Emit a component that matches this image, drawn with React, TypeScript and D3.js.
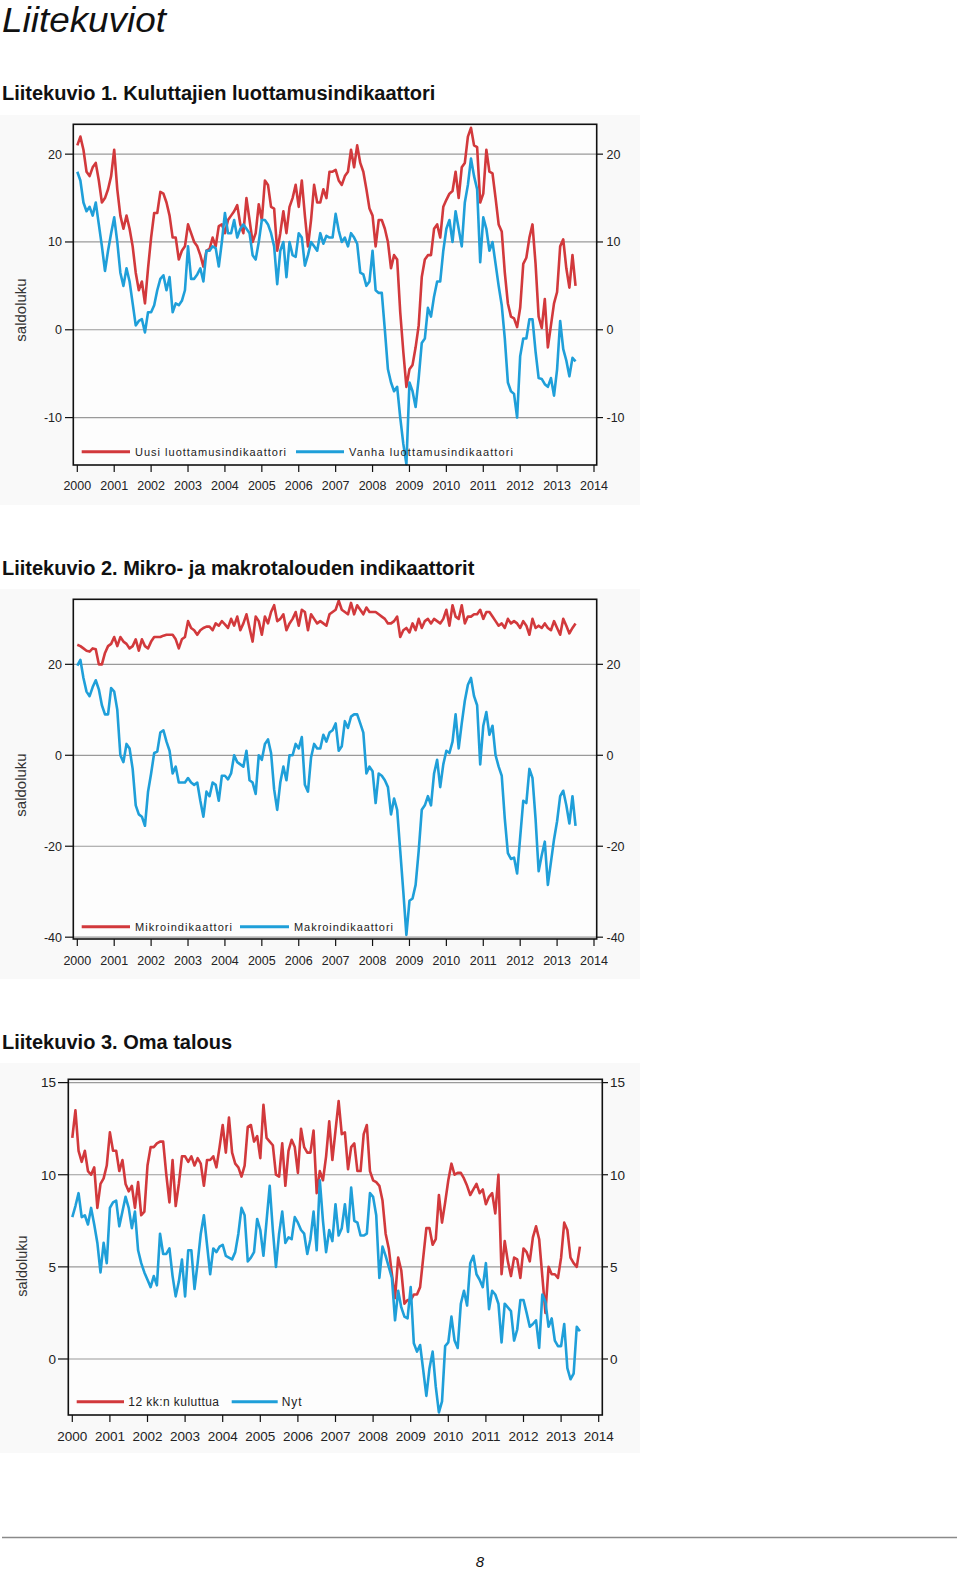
import React from "react";
import * as d3 from "d3";

// ---------- data (monthly, Jan 2000 – Jul 2013) ----------
const FIRST_YEAR = 2000;
const YEAR_TICKS = [2000, 2001, 2002, 2003, 2004, 2005, 2006, 2007, 2008, 2009, 2010, 2011, 2012, 2013, 2014];

const uusi = [
  21, 22, 20.5, 18, 17.5, 18.5, 19, 17, 14.5, 15, 16, 17.5,
  20.5, 16, 13, 11.5, 13, 11.5, 9.5, 6.5, 4.5, 5.5, 3, 7,
  10.5, 13.3, 13.3, 15.7, 15.5, 14.5, 13, 10.5, 10.5, 8, 9, 9.5,
  12, 11, 10, 9.5, 8.5, 7.2, 9, 9.2, 10.5, 9.5, 11.8, 12,
  11, 12.5, 13, 13.5, 14.2, 12, 11, 15, 12.5, 10, 11, 14.3,
  12.5, 17, 16.5, 14, 13.8, 9, 11, 13.5, 11, 14, 15, 16.5,
  14, 17, 13, 9.5, 12.5, 16.5, 14.5, 14.5, 16, 15, 18, 18,
  18.2, 17, 16.5, 17.5, 18, 20.5, 18.5, 21, 19, 18, 16, 13.8,
  13, 9.5, 12.5, 12.5, 11.5, 10, 7, 8.5, 8, 2, -2.5, -6.5,
  -4.5, -4, -2, 0.5, 6, 8, 8.5, 8.5, 11.5, 12, 10.5, 14,
  14.8, 15.5, 15.8, 18, 15, 18.5, 19, 22, 23, 21, 20.8, 14.5,
  15.5, 20.5, 18, 17.8, 15, 12, 11.2, 6.5, 3, 1.5, 1.3, 0.3,
  2.5, 7.5, 8.2, 10.5, 12, 7.5, 1.5, 0.2, 3.5, -2, 0.5, 3,
  4.3, 9.5, 10.3, 7, 4.8, 8.5, 5,
];

const vanha = [
  18, 17, 14.5, 13.5, 14, 13, 14.5, 12, 9.5, 6.7, 9, 11,
  12.8, 10, 6.5, 5, 7, 5.5, 3, 0.5, 1, 1.2, -0.3, 2,
  2, 2.8, 4.5, 5.8, 6.2, 4.5, 6, 2, 3, 2.8, 3.3, 4.5,
  9.5, 5.8, 5.8, 6.3, 7, 5.5, 9, 9, 9.5, 9.3, 7.2, 10,
  13.3, 11, 11, 12.5, 10.5, 11.5, 12, 11.5, 11, 8.5, 8, 10,
  12.5, 12.5, 12, 11, 9.5, 5.2, 9, 10, 6, 10, 8.5, 8.3,
  11, 10.5, 7.3, 8.5, 10, 9.5, 9, 11, 9.8, 10.7, 10.5, 10.5,
  13.2, 11.3, 10, 10.5, 9.5, 11, 10.5, 9.8, 6.5, 6.3, 5, 5.5,
  9, 4.5, 4.2, 4.2, 0, -4.5, -6, -7, -6.5, -10, -13, -15.3,
  -6, -7, -8.8, -5.5, -1.5, -1, 2.5, 1.5, 3.8, 5.5, 5.5, 9,
  11.5, 12.5, 10, 13.5, 11.5, 9.5, 14.5, 16.5, 19.5, 17.5, 16, 7.7,
  12.8, 11.5, 9, 10, 7.5, 5, 2.8, -1, -6, -7, -7.3, -10,
  -3, -1, -1, 1.2, 1.2, -2.5, -5.5, -5.6, -6.2, -6.5, -5.5, -7.5,
  -4.5, 1, -2.2, -3.5, -5.3, -3.2, -3.6,
];

const mikro = [
  24.3, 24, 23.5, 23, 22.8, 23.5, 23.3, 20, 20, 22.5, 24, 24.5,
  26, 24, 26, 25, 24.5, 23.5, 24, 25.5, 23, 25.5, 24, 23.5,
  25, 26, 26, 26, 26.3, 26.5, 26.5, 26.5, 25.5, 23.5, 25.5, 26,
  29.5, 28, 27.5, 26.5, 27.5, 28, 28.3, 28.3, 27.5, 29, 28.5, 29.5,
  28.8, 28, 30, 28.5, 30.5, 27.5, 29, 31, 28, 25, 30.5, 29.5,
  26.5, 30.5, 29, 31.5, 33, 29.5, 30, 31, 27.5, 29, 30, 31.5,
  28.5, 32, 31.5, 27.5, 31, 30, 29, 29.5, 29, 28.5, 31, 31.5,
  32, 34, 32, 31.5, 31, 33.5, 31, 33, 32, 31, 32.5, 31.5,
  31.5, 31.5, 31, 30.5, 30, 29, 29, 29.5, 30.5, 26, 27.5, 28,
  27, 29, 27.5, 30, 28, 29.5, 30, 29, 30, 29.5, 29, 30,
  32, 28.5, 33, 30.5, 30, 33, 29, 30.5, 30.5, 31, 31, 32,
  30, 31.5, 31.5, 30.5, 29.5, 28.5, 29, 28, 30, 29, 29.5, 29,
  28, 29.5, 28.5, 26.5, 30, 28, 28.5, 28, 29, 28, 27.5, 29.5,
  28, 26.5, 30, 28.5, 26.8, 28, 29,
];

const makro = [
  19.7, 21, 17, 14, 13, 15, 16.5, 14.5, 11, 9, 9, 14.8,
  14, 10, 0, -1.5, 2.5, 1.5, -3, -11, -13, -13.5, -15.5, -8,
  -4, 0.5, 0.8, 5, 5.5, 3, 1, -4, -2.5, -6, -6, -6,
  -5, -6, -6.5, -6, -10, -13.5, -8, -9, -6, -6.5, -10, -4.5,
  -4.5, -5.3, -4, 0, -1.5, -2, -2.5, 1, -5.5, -6, -8.5, 0,
  -1, 2.5, 3.5, 0.5, -7.5, -12, -6, -2.5, -5.5, 0, 0, 2.5,
  1.5, 4, -6.5, -8, -0.5, 2.5, 1.5, 1.5, 4.5, 3, 5, 5.5,
  7, 1, 2, 7.5, 6, 8.5, 9, 9, 7, 5, -4, -2.5,
  -3.5, -10.5, -4, -4.5, -5.5, -7, -13, -9.5, -12, -21, -30, -39.5,
  -32, -31.5, -28.5, -21, -12, -11, -9, -11, -4, -1, -7, -2,
  1, 0.5, 3, 9, 1.5, 7, 12, 15.5, 17, 13, 11, -2,
  6.5, 9.5, 4.5, 6.5, 0, -2.5, -4.5, -14, -21.5, -22.8, -22.5, -26,
  -18, -10, -10.5, -3, -5, -14, -25.5, -22, -19, -28.5, -23.5, -18.5,
  -14.5, -9, -7.8, -11, -15, -9, -15.5,
];

const kulutus12 = [
  12, 13.5, 11.3, 10.7, 11.3, 10.2, 10, 10.4, 8.2, 9.5, 9.8, 10.5,
  12.3, 11.3, 11.3, 10.2, 10.8, 9.5, 9.1, 9.4, 8.2, 9.6, 7.8, 8,
  10.5, 11.5, 11.5, 11.7, 11.8, 11.8, 10, 8.5, 10.8, 8.3, 9.5, 11,
  11, 10.7, 11, 10.5, 10.9, 10.6, 9.4, 10.8, 10.8, 11, 10.4, 11.5,
  12.7, 11.2, 13.1, 11.2, 10.6, 10.4, 9.9, 10.5, 12.6, 12.7, 11.8, 12.1,
  10.9, 13.8, 12, 11.8, 11.6, 10, 9.9, 11.7, 9.4, 11.3, 11.9, 11.5,
  10.1, 12.5, 11.5, 11.2, 11.2, 12.4, 9, 10.2, 9.7, 11, 12.9, 10.8,
  12.4, 14, 12.2, 12.3, 10.3, 11.5, 11.7, 10.2, 10.2, 12.2, 12.7, 10.2,
  9.7, 9.6, 9.4, 8.6, 6.8, 6, 4.6, 3.3, 5.5, 4.8, 3, 3.2,
  3.2, 3.5, 3.5, 3.9, 5.5, 7.1, 7.1, 6.2, 6.5, 8.9, 7.4, 8.5,
  9.7, 10.6, 10, 10.1, 10.1, 9.8, 9.4, 8.9, 9.2, 9.5, 9, 9.2,
  8.4, 8.8, 9, 7.9, 10, 4.6, 6.4, 5.3, 4.5, 5.5, 5.4, 4.4,
  6, 5.8, 5.3, 6.6, 7.2, 6.5, 4.5, 2.5, 5, 4.6, 4.6, 4.4,
  5.5, 7.4, 7, 5.5, 5.2, 5, 6.1,
];

const nyt = [
  7.7, 8.3, 9, 7.7, 7.8, 7.3, 8.2, 7.3, 6.3, 4.7, 6.3, 5.2,
  8.2, 8.5, 8.6, 7.2, 8, 8.8, 8.2, 7.1, 8, 5.9, 5.2, 4.7,
  4.3, 3.9, 4.5, 4, 6.8, 5.7, 5.7, 6, 4.5, 3.4, 4.2, 5.4,
  3.4, 5.9, 5.9, 3.8, 5.2, 6.8, 7.8, 6.2, 4.6, 6, 5.8, 6.1,
  6.2, 5.6, 5.5, 5.4, 5.8, 6.8, 8.2, 7.8, 5.3, 5.5, 5.8, 7.6,
  7, 5.6, 7.5, 9.4, 7, 5, 6.8, 8, 6.3, 6.6, 6.5, 7.7,
  7.4, 7, 6.8, 5.7, 6.5, 8, 5.9, 9.7, 7.5, 5.8, 7, 6.4,
  8.4, 6.7, 7.1, 8.4, 6.9, 9.3, 7.5, 7.4, 6.7, 6.7, 6.8, 9,
  8.8, 7.8, 4.4, 6.1, 5.6, 5, 4.4, 2.1, 3.7, 2.8, 2.3, 2.2,
  3.9, 0.85, 0.4, 0.76, -0.6, -2, -0.5, 0.4, -1.5, -2.9, -2.3, 0.7,
  0.9, 2.3, 1, 0.6, 3, 3.7, 2.9, 5.2, 5.6, 4.6, 4.3, 3.9,
  5.2, 2.7, 3.7, 3.5, 3, 0.9, 3, 2.8, 2.6, 1, 1.6, 3.2,
  3.2, 2.5, 1.75, 1.9, 2.1, 0.6, 3.5, 3.1, 1.75, 2.2, 1, 0.7,
  0.7, 1.9, -0.5, -1.1, -0.8, 1.75, 1.5,
];

const Y_TICKS_1 = [-10, 0, 10, 20];
const Y_TICKS_2 = [-40, -20, 0, 20];
const Y_TICKS_3 = [0, 5, 10, 15];

// ---------- styling ----------
const RED = "#d2393c";
const BLUE = "#1f9fd9";
const FONT = "'Liberation Sans', Arial, Helvetica, sans-serif";

type LegendItem = { x1: number; x2: number; tx: number; tw: number; label: string; color: string };
type Cfg = {
  bg: [number, number, number, number];
  plot: { l: number; t: number; r: number; b: number };
  xr: [number, number];
  yDomain: [number, number];
  yTicks: number[];
  leftTick: number;
  leftLabel: number;
  rightTick: number;
  rightLabel: number;
  tickFont: number;
  xLabelY: number;
  saldo: { x: number; y: number; size: number };
  legendY: number;
  legendFont: number;
  legend: LegendItem[];
  series: { values: number[]; color: string }[];
};

const charts: Cfg[] = [
  {
    bg: [0, 115, 640, 390],
    plot: { l: 73.3, t: 124.3, r: 596.7, b: 465 },
    xr: [77.3, 594],
    yDomain: [-15.4, 23.4],
    yTicks: Y_TICKS_1,
    leftTick: 65,
    leftLabel: 62,
    rightTick: 603,
    rightLabel: 606.5,
    tickFont: 12.5,
    xLabelY: 490,
    saldo: { x: 22, y: 310, size: 15 },
    legendY: 451.7,
    legendFont: 11,
    legend: [
      { x1: 81.7, x2: 130, tx: 135, tw: 151, label: "Uusi luottamusindikaattori", color: RED },
      { x1: 296, x2: 344, tx: 349, tw: 164, label: "Vanha luottamusindikaattori", color: BLUE },
    ],
    series: [
      { values: uusi, color: RED },
      { values: vanha, color: BLUE },
    ],
  },
  {
    bg: [0, 589, 640, 390],
    plot: { l: 73.3, t: 599.3, r: 596.7, b: 939 },
    xr: [77.3, 594],
    yDomain: [-40.4, 34.3],
    yTicks: Y_TICKS_2,
    leftTick: 65,
    leftLabel: 62,
    rightTick: 603,
    rightLabel: 606.5,
    tickFont: 12.5,
    xLabelY: 965,
    saldo: { x: 22, y: 785, size: 15 },
    legendY: 926.7,
    legendFont: 11,
    legend: [
      { x1: 81.7, x2: 130, tx: 135, tw: 97, label: "Mikroindikaattori", color: RED },
      { x1: 240, x2: 289, tx: 294, tw: 99, label: "Makroindikaattori", color: BLUE },
    ],
    series: [
      { values: mikro, color: RED },
      { values: makro, color: BLUE },
    ],
  },
  {
    bg: [0, 1063, 640, 390],
    plot: { l: 68.3, t: 1079.3, r: 602.3, b: 1415 },
    xr: [72.3, 598.7],
    yDomain: [-3.04, 15.18],
    yTicks: Y_TICKS_3,
    leftTick: 58,
    leftLabel: 56,
    rightTick: 608,
    rightLabel: 610,
    tickFont: 13.5,
    xLabelY: 1440.5,
    saldo: { x: 22.7, y: 1266, size: 14.5 },
    legendY: 1401.7,
    legendFont: 12,
    legend: [
      { x1: 76.7, x2: 124, tx: 128.3, tw: 90.7, label: "12 kk:n kuluttua", color: RED },
      { x1: 231.7, x2: 277.7, tx: 281.7, tw: 20, label: "Nyt", color: BLUE },
    ],
    series: [
      { values: kulutus12, color: RED },
      { values: nyt, color: BLUE },
    ],
  },
];

function Panel({ cfg }: { cfg: Cfg }) {
  const { plot } = cfg;
  const x = d3.scaleLinear().domain([YEAR_TICKS[0], YEAR_TICKS[YEAR_TICKS.length - 1]]).range(cfg.xr);
  const y = d3.scaleLinear().domain(cfg.yDomain).range([plot.b, plot.t]);
  const line = d3
    .line<number>()
    .x((_, i) => x(FIRST_YEAR + i / 12))
    .y((d) => y(d));

  return (
    <g>
      <rect x={cfg.bg[0]} y={cfg.bg[1]} width={cfg.bg[2]} height={cfg.bg[3]} fill="#f9f9f9" />
      <rect x={plot.l} y={plot.t} width={plot.r - plot.l} height={plot.b - plot.t} fill="#fdfdfd" />
      {cfg.yTicks.map((t) => (
        <line key={"g" + t} x1={plot.l} x2={plot.r} y1={y(t)} y2={y(t)} stroke="#9a9a9a" strokeWidth={1.2} />
      ))}
      {cfg.series.map((s, i) => (
        <path key={"s" + i} d={line(s.values) || ""} fill="none" stroke={s.color} strokeWidth={2.6} strokeLinejoin="round" />
      ))}
      <rect x={plot.l} y={plot.t} width={plot.r - plot.l} height={plot.b - plot.t} fill="none" stroke="#111" strokeWidth={1.6} />
      {cfg.yTicks.map((t) => (
        <g key={"yt" + t} fontFamily={FONT} fontSize={cfg.tickFont} fill="#222">
          <line x1={cfg.leftTick} x2={plot.l} y1={y(t)} y2={y(t)} stroke="#111" strokeWidth={1.2} />
          <line x1={plot.r} x2={cfg.rightTick} y1={y(t)} y2={y(t)} stroke="#111" strokeWidth={1.2} />
          <text x={cfg.leftLabel} y={y(t) + cfg.tickFont * 0.36} textAnchor="end">{t}</text>
          <text x={cfg.rightLabel} y={y(t) + cfg.tickFont * 0.36} textAnchor="start">{t}</text>
        </g>
      ))}
      {YEAR_TICKS.map((yr) => (
        <g key={"xt" + yr} fontFamily={FONT} fontSize={cfg.tickFont} fill="#222">
          <line x1={x(yr)} x2={x(yr)} y1={plot.b} y2={plot.b + 7} stroke="#111" strokeWidth={1.2} />
          <text x={x(yr)} y={cfg.xLabelY} textAnchor="middle">{yr}</text>
        </g>
      ))}
      <text
        transform={`translate(${cfg.saldo.x},${cfg.saldo.y}) rotate(-90)`}
        textAnchor="middle"
        dominantBaseline="middle"
        fontFamily={FONT}
        fontSize={cfg.saldo.size}
        fill="#333"
      >
        saldoluku
      </text>
      {cfg.legend.map((l) => (
        <g key={l.label}>
          <line x1={l.x1} x2={l.x2} y1={cfg.legendY} y2={cfg.legendY} stroke={l.color} strokeWidth={3} />
          <text
            x={l.tx}
            y={cfg.legendY + cfg.legendFont * 0.36}
            fontFamily={FONT}
            fontSize={cfg.legendFont}
            fill="#222"
            textLength={l.tw}
            lengthAdjust="spacing"
          >
            {l.label}
          </text>
        </g>
      ))}
    </g>
  );
}

const TITLES = [
  { text: "Liitekuvio 1. Kuluttajien luottamusindikaattori", y: 100 },
  { text: "Liitekuvio 2. Mikro- ja makrotalouden indikaattorit", y: 575 },
  { text: "Liitekuvio 3. Oma talous", y: 1049 },
];

export default function App() {
  return (
    <svg
      width={960}
      height={1572}
      viewBox="0 0 960 1572"
      style={{ position: "absolute", left: 0, top: 0, background: "#fff" }}
    >
      <rect x={0} y={0} width={960} height={1572} fill="#fff" />
      <text
        x={2}
        y={32}
        fontFamily={FONT}
        fontStyle="italic"
        fontSize={35}
        fill="#111"
        textLength={164}
        lengthAdjust="spacingAndGlyphs"
      >
        Liitekuviot
      </text>
      {TITLES.map((t) => (
        <text key={t.text} x={2} y={t.y} fontFamily={FONT} fontWeight="bold" fontSize={20} fill="#111">
          {t.text}
        </text>
      ))}
      {charts.map((c, i) => (
        <Panel key={i} cfg={c} />
      ))}
      <line x1={2} x2={957} y1={1537.5} y2={1537.5} stroke="#8a8a8a" strokeWidth={1.5} />
      <text x={480} y={1567} textAnchor="middle" fontFamily={FONT} fontStyle="italic" fontSize={15} fill="#111">
        8
      </text>
    </svg>
  );
}
